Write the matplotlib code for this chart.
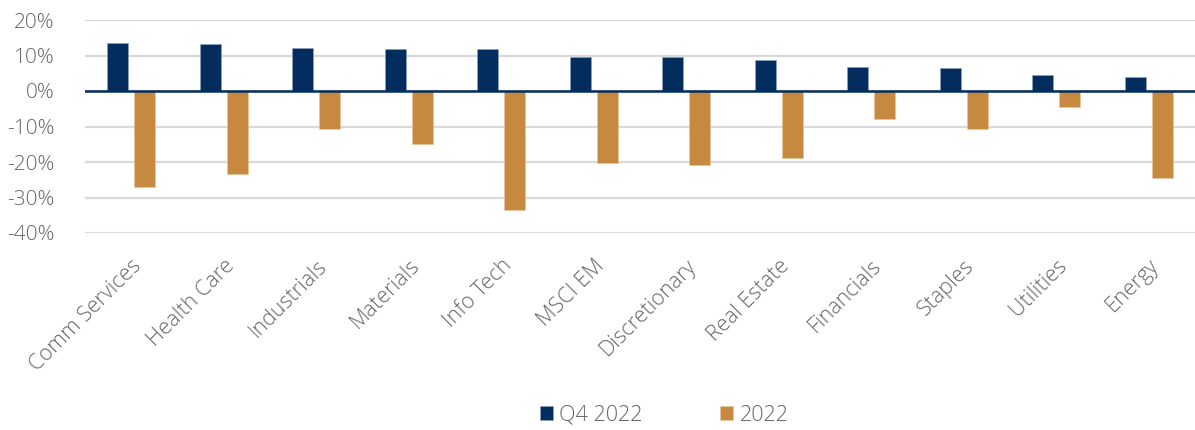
import matplotlib
matplotlib.use("Agg")
import matplotlib.pyplot as plt
import numpy as np
from matplotlib.ticker import FuncFormatter

# data (returns in %)
sectors = ["Comm Services", "Health Care", "Industrials", "Materials", "Info Tech",
           "MSCI EM", "Discretionary", "Real Estate", "Financials", "Staples",
           "Utilities", "Energy"]
q4_2022 = [13.6, 13.1, 12.2, 11.9, 11.8, 9.5, 9.5, 8.8, 6.8, 6.4, 4.4, 4.0]
fy_2022 = [-27.1, -23.5, -10.7, -15.0, -33.5, -20.2, -20.8, -19.0, -7.9, -10.6, -4.6, -24.4]
series_names = ["Q4 2022", "2022"]

navy = "#022D5E"
gold = "#C6893F"
grey_txt = "#666666"

plt.rcParams['font.family'] = ['Open Sans', 'DejaVu Sans']
plt.rcParams['font.weight'] = 'light'

fig = plt.figure(figsize=(11.95, 4.3), dpi=100)
ax = fig.add_axes([85 / 1195, 1 - 233 / 430, 1 - 85 / 1195, 213 / 430])

x = np.arange(len(sectors))
w = 0.227
off = 0.146
ax.bar(x - off, q4_2022, width=w, color=navy, edgecolor="#8fa3bd", linewidth=0.4,
       label=series_names[0], zorder=3)
ax.bar(x + off, fy_2022, width=w, color=gold, edgecolor="#e8c89e", linewidth=0.4,
       label=series_names[1], zorder=3)

ax.set_xlim(-0.5, len(sectors) - 0.5)
ax.set_ylim(-40, 20)
ax.set_yticks(np.arange(-40, 21, 10))
ax.yaxis.set_major_formatter(FuncFormatter(lambda v, p: f"{v:.0f}%"))
ax.grid(axis="y", color="#D9D9D9", linewidth=1.6, zorder=0)
ax.axhline(0, color=navy, linewidth=1.8, zorder=4)

for s in ax.spines.values():
    s.set_visible(False)
ax.tick_params(axis="both", length=0)
ax.tick_params(axis="y", labelsize=15, labelcolor=grey_txt, pad=22)

ax.set_xticks(x)
ax.set_xticklabels(sectors, rotation=45, ha="right", rotation_mode="anchor",
                   fontsize=15.5, color=grey_txt)
ax.tick_params(axis="x", pad=16)

leg = fig.legend(loc="lower center", ncol=2, bbox_to_anchor=(0.556, -0.035),
                 frameon=False, fontsize=15.5, handlelength=0.6, handleheight=0.6,
                 handletextpad=0.3, columnspacing=3.6)
for t in leg.get_texts():
    t.set_color(grey_txt)

fig.savefig("out.png", dpi=100)
